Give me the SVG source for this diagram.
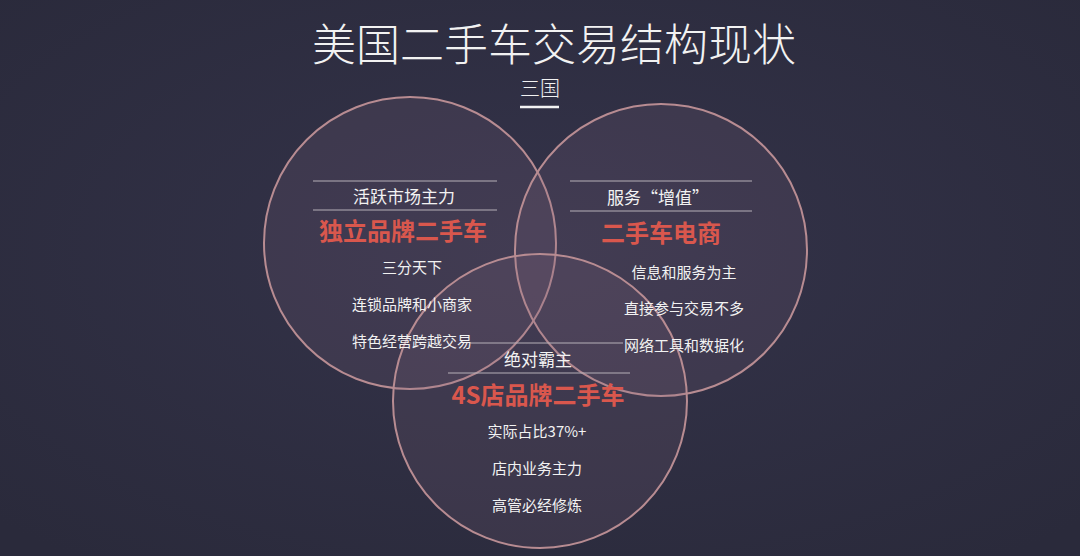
<svg xmlns="http://www.w3.org/2000/svg" width="1080" height="556" viewBox="0 0 1080 556">
<defs>
<radialGradient id="bg" cx="50%" cy="45%" r="70%">
<stop offset="0" stop-color="#34334a"/>
<stop offset="1" stop-color="#2a2a3b"/>
</radialGradient>
</defs>
<style>
.c{fill:#8a6a80;fill-opacity:0.17;stroke:#b88c92;stroke-width:2}
.t{font-family:"Noto Sans CJK SC","Noto Sans",sans-serif;fill:#f2f2f2;text-anchor:middle}
.s{font-size:15px}
.m{font-size:17px}
.r{font-size:24px;font-weight:bold;fill:#d9574d}
.l{stroke:#b5b0b8;stroke-width:1.2}
</style>
<rect width="1080" height="556" fill="url(#bg)"/>
<text class="t" x="554" y="61" style="font-size:44px;font-weight:300">美国二手车交易结构现状</text>
<text class="t" x="540" y="96" style="font-size:20px;font-weight:300">三国</text>
<line x1="520" y1="107" x2="559" y2="107" stroke="#f2f2f2" stroke-width="2.5"/>
<g id="circles">
<circle class="c" cx="410" cy="243" r="146"/>
<circle class="c" cx="661" cy="250" r="146"/>
<circle class="c" cx="540" cy="401" r="147"/>
</g>
<g id="node-left">
<line class="l" x1="313" y1="181" x2="497" y2="181"/>
<text class="t m" x="404" y="203">活跃市场主力</text>
<line class="l" x1="313" y1="210" x2="497" y2="210"/>
<text class="t r" x="403" y="240">独立品牌二手车</text>
<text class="t s" x="412" y="273">三分天下</text>
<text class="t s" x="412" y="310">连锁品牌和小商家</text>
<text class="t s" x="412" y="347">特色经营跨越交易</text>
</g>
<g id="node-right">
<line class="l" x1="570" y1="181" x2="752" y2="181"/>
<text class="t m" x="658" y="204">服务“增值”</text>
<line class="l" x1="570" y1="211" x2="752" y2="211"/>
<text class="t r" x="661" y="242">二手车电商</text>
<text class="t s" x="684" y="278">信息和服务为主</text>
<text class="t s" x="684" y="314">直接参与交易不多</text>
<text class="t s" x="684" y="351">网络工具和数据化</text>
</g>
<g id="node-bottom">
<line class="l" x1="470" y1="343" x2="623" y2="343"/>
<text class="t m" x="538" y="366">绝对霸主</text>
<line class="l" x1="448" y1="373" x2="630" y2="373"/>
<text class="t r" x="538" y="404">4S店品牌二手车</text>
<text class="t s" x="537" y="437">实际占比37%+</text>
<text class="t s" x="537" y="474">店内业务主力</text>
<text class="t s" x="537" y="511">高管必经修炼</text>
</g>
<g id="connectors"></g>
</svg>
